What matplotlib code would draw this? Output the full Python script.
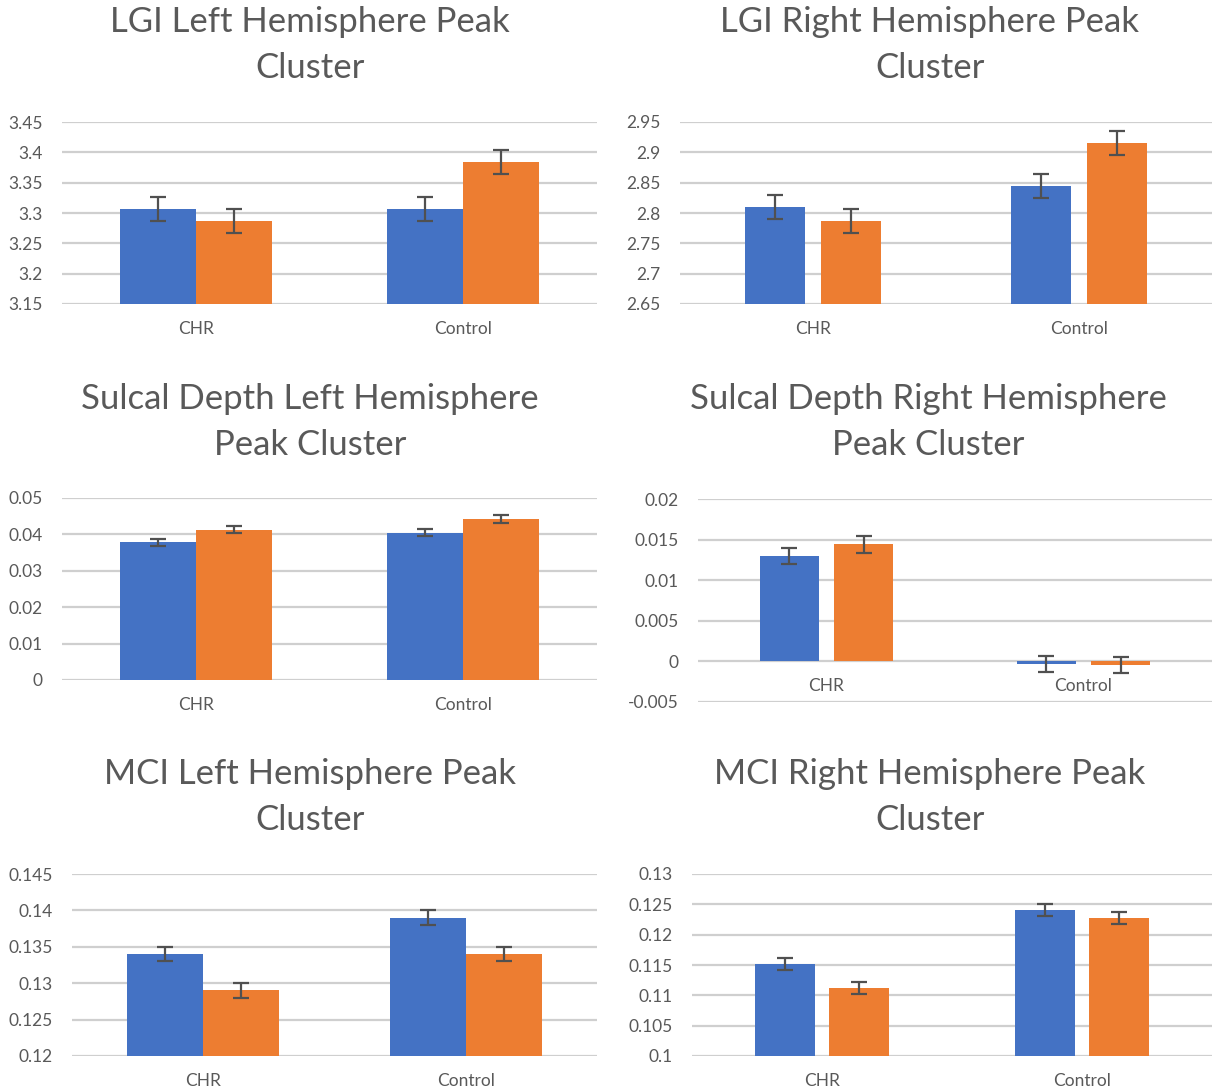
import matplotlib
matplotlib.use("Agg")
import matplotlib.pyplot as plt
import numpy as np

plt.rcParams['font.family'] = ['Lato', 'DejaVu Sans']

groups = ['CHR', 'Control']
blue = '#4472C4'
orange = '#ED7D31'
grey = '#595959'

lgi_left_blue = [3.306, 3.306]
lgi_left_orange = [3.287, 3.384]
lgi_left_err = [0.02, 0.02]
lgi_left_ticks = ['3.15', '3.2', '3.25', '3.3', '3.35', '3.4', '3.45']

lgi_right_blue = [2.810, 2.845]
lgi_right_orange = [2.787, 2.915]
lgi_right_err = [0.02, 0.02]
lgi_right_ticks = ['2.65', '2.7', '2.75', '2.8', '2.85', '2.9', '2.95']

sd_left_blue = [0.0378, 0.0405]
sd_left_orange = [0.0413, 0.0442]
sd_left_err = [0.001, 0.001]
sd_left_ticks = ['0', '0.01', '0.02', '0.03', '0.04', '0.05']

sd_right_blue = [0.0130, -0.0003]
sd_right_orange = [0.0144, -0.0004]
sd_right_err = [0.001, 0.001]
sd_right_ticks = ['-0.005', '0', '0.005', '0.01', '0.015', '0.02']

mci_left_blue = [0.134, 0.139]
mci_left_orange = [0.129, 0.134]
mci_left_err = [0.001, 0.001]
mci_left_ticks = ['0.12', '0.125', '0.13', '0.135', '0.14', '0.145']

mci_right_blue = [0.1151, 0.1240]
mci_right_orange = [0.1112, 0.1227]
mci_right_err = [0.001, 0.001]
mci_right_ticks = ['0.1', '0.105', '0.11', '0.115', '0.12', '0.125', '0.13']

W, H = 1212, 1092
fig = plt.figure(figsize=(W / 100, H / 100), dpi=100)


def panel(box, title, title_xy, bvals, ovals, berr, oerr, ticks, width, gap, baseline=None):
    x0, y0, x1, y1 = box
    ax = fig.add_axes([x0 / W, 1 - y1 / H, (x1 - x0) / W, (y1 - y0) / H])
    x = np.arange(len(groups))
    tv = [float(t) for t in ticks]
    base = tv[0] if baseline is None else baseline
    off = (width + gap) / 2
    bv = np.array(bvals)
    ov = np.array(ovals)
    ax.bar(x - off, bv - base, width, bottom=base, color=blue, zorder=3)
    ax.bar(x + off, ov - base, width, bottom=base, color=orange, zorder=3)
    ax.errorbar(x - off, bv, yerr=berr, fmt='none', ecolor='#505050', elinewidth=1.6,
                capsize=6, capthick=1.6, zorder=4)
    ax.errorbar(x + off, ov, yerr=oerr, fmt='none', ecolor='#505050', elinewidth=1.6,
                capsize=6, capthick=1.6, zorder=4)
    ax.set_xlim(-0.5, len(groups) - 0.5)
    ax.set_ylim(tv[0], tv[-1])
    ax.set_yticks(tv)
    ax.set_yticklabels(ticks)
    ax.yaxis.grid(True, color='#CFCFCF', linewidth=1.6, zorder=0)
    ax.set_axisbelow(True)
    for s in ax.spines.values():
        s.set_visible(False)
    ax.tick_params(axis='y', length=0, labelsize=12.5, labelcolor=grey, pad=14)
    ax.set_xticks([])
    # category labels below baseline
    for xi, g in zip(x, groups):
        ax.annotate(g, xy=(xi, base), xycoords='data', xytext=(0, -18),
                    textcoords='offset points', ha='center', va='center',
                    fontsize=12.5, color=grey)
    fig.text(title_xy[0] / W, 1 - title_xy[1] / H, title, ha='center', va='center',
             fontsize=25, color=grey, linespacing=1.55)
    return ax


panel((62, 122, 597, 304), 'LGI Left Hemisphere Peak\nCluster', (310, 45),
      lgi_left_blue, lgi_left_orange, lgi_left_err, lgi_left_err, lgi_left_ticks, 0.284, 0.0)
panel((680, 122, 1212, 304), 'LGI Right Hemisphere Peak\nCluster', (930, 45),
      lgi_right_blue, lgi_right_orange, lgi_right_err, lgi_right_err, lgi_right_ticks, 0.226, 0.06)
panel((62, 498, 597, 680), 'Sulcal Depth Left Hemisphere\nPeak Cluster', (310, 422),
      sd_left_blue, sd_left_orange, sd_left_err, sd_left_err, sd_left_ticks, 0.284, 0.0)
panel((698, 499, 1212, 702), 'Sulcal Depth Right Hemisphere\nPeak Cluster', (928, 422),
      sd_right_blue, sd_right_orange, sd_right_err, sd_right_err, sd_right_ticks, 0.226, 0.062,
      baseline=0.0)
panel((72, 874, 597, 1056), 'MCI Left Hemisphere Peak\nCluster', (310, 797),
      mci_left_blue, mci_left_orange, mci_left_err, mci_left_err, mci_left_ticks, 0.29, 0.0)
panel((692, 874, 1212, 1056), 'MCI Right Hemisphere Peak\nCluster', (930, 797),
      mci_right_blue, mci_right_orange, mci_right_err, mci_right_err, mci_right_ticks, 0.23, 0.054)

fig.savefig('out.png', dpi=100, facecolor='white')
